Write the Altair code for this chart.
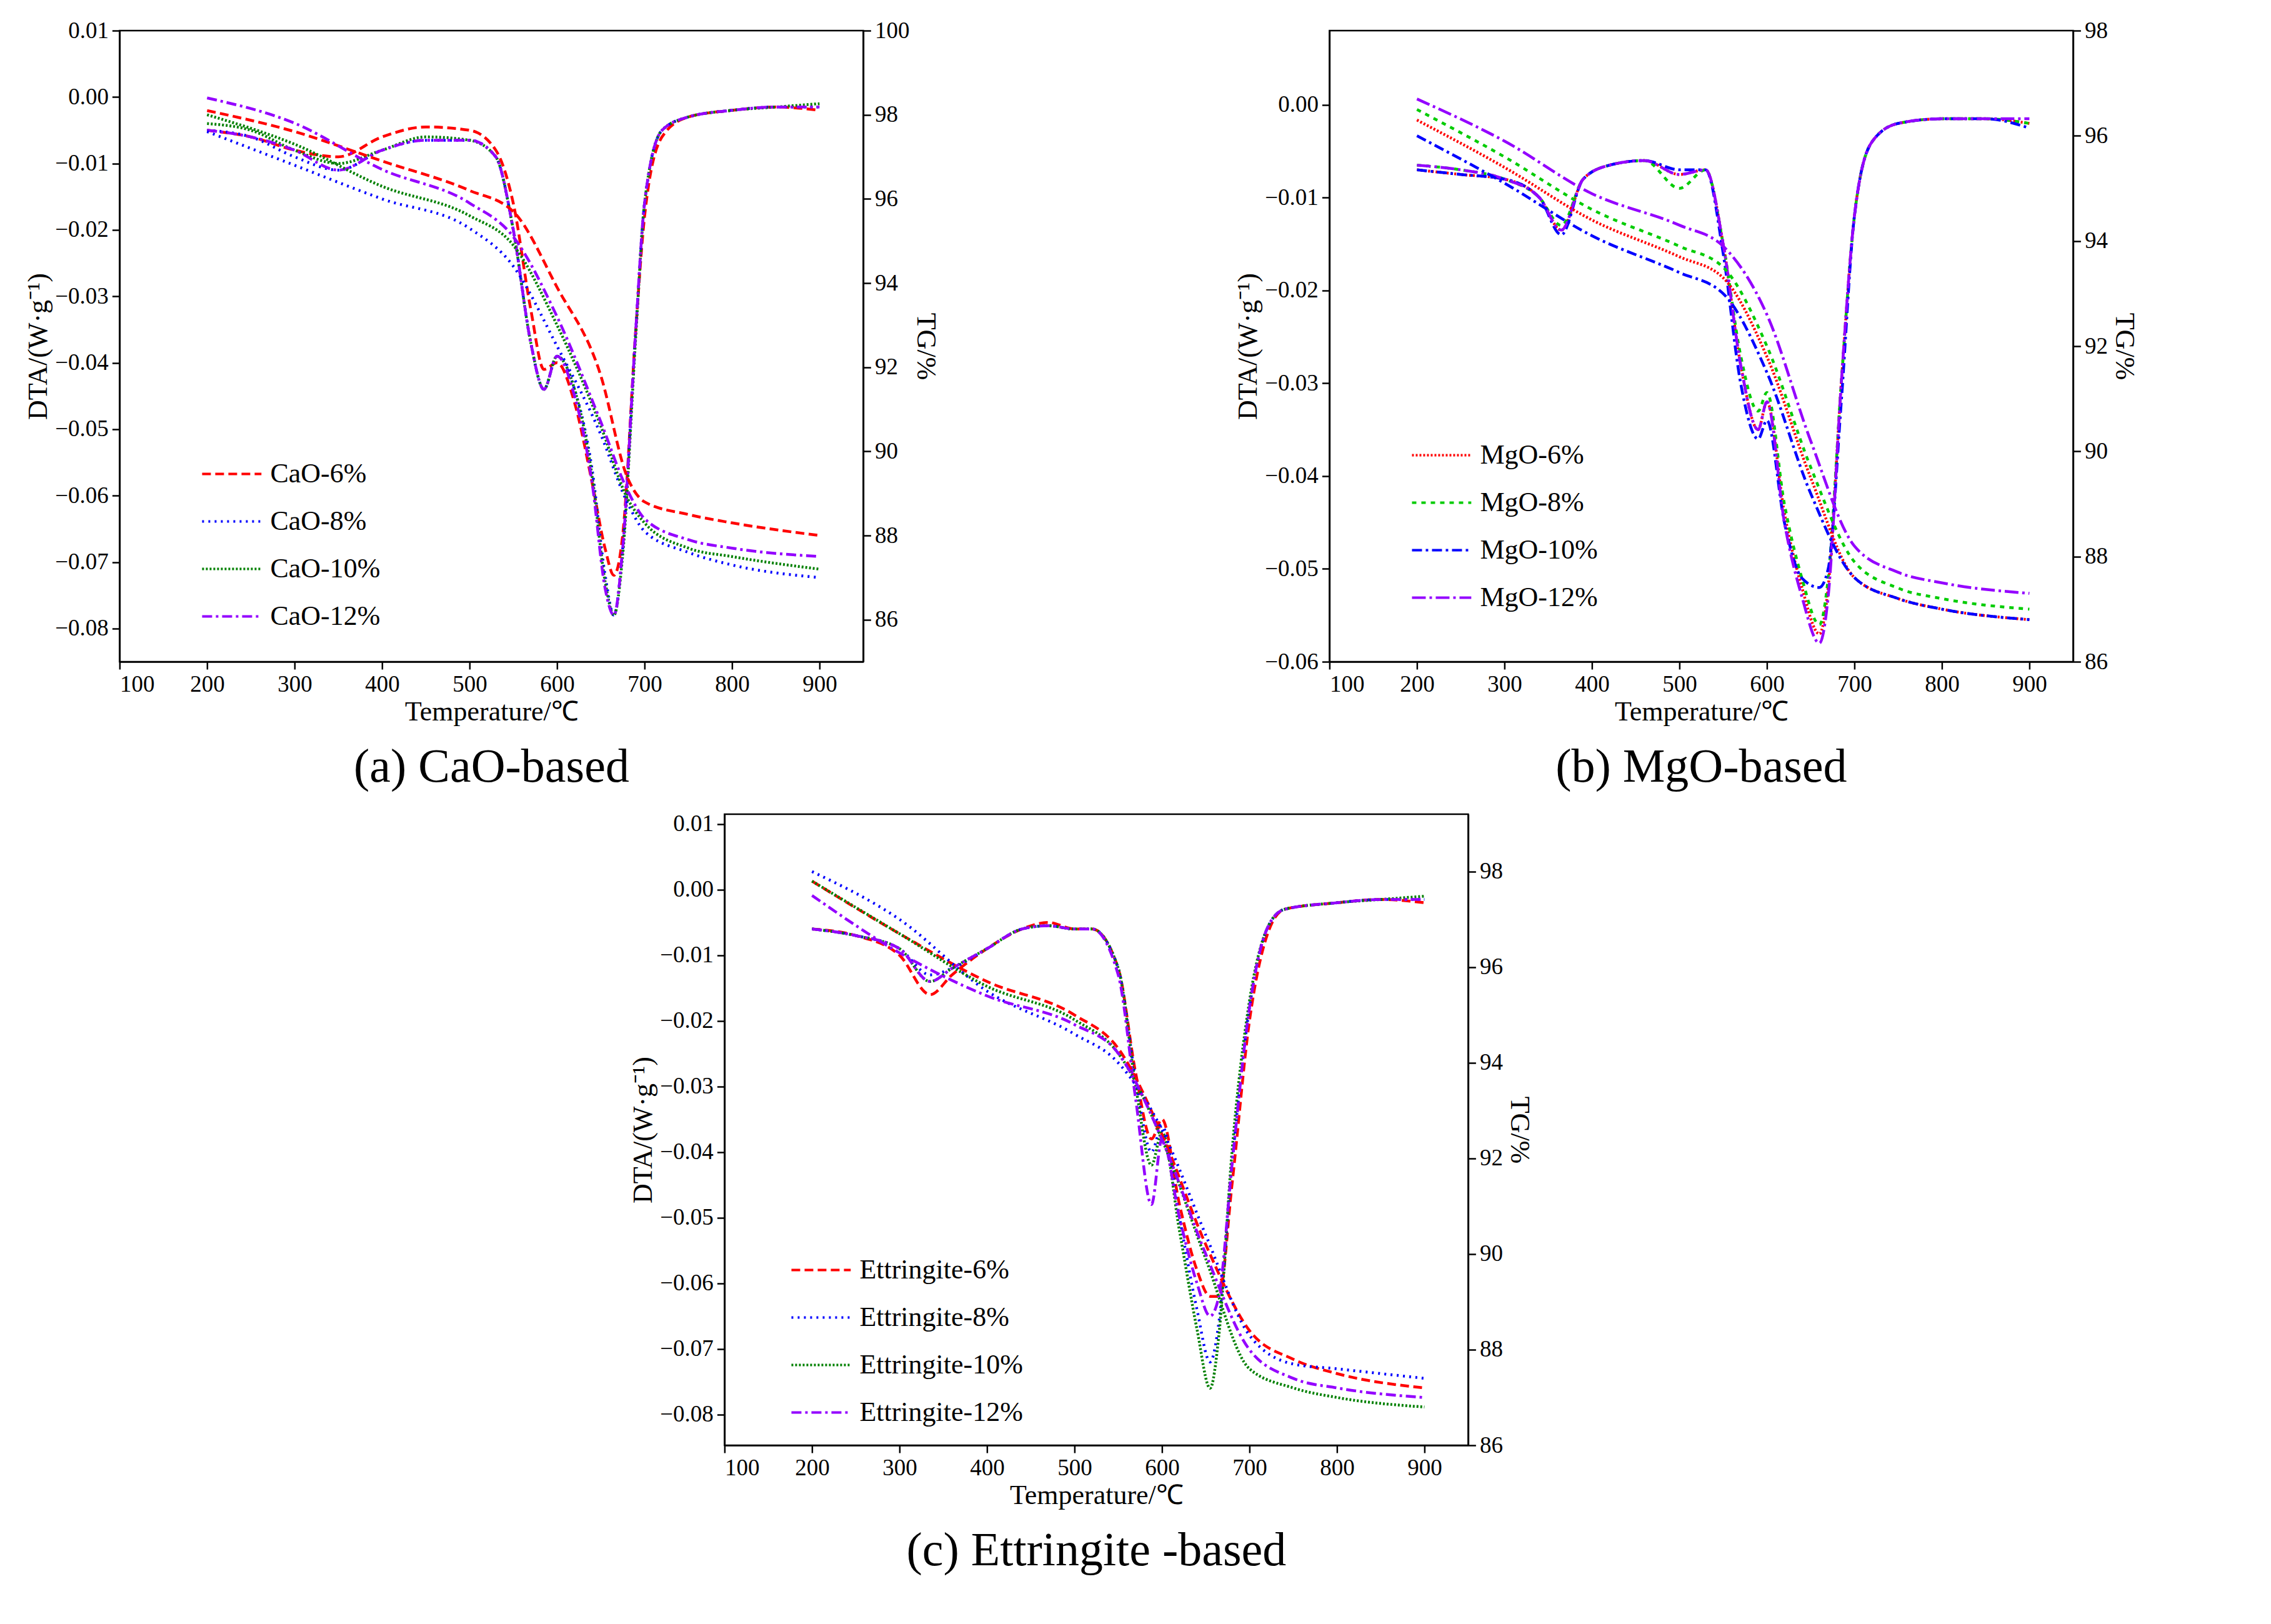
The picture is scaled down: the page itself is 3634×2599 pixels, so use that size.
import altair as alt
import pandas as pd

FONT = "Liberation Serif"

# ---------- (a) CaO-based ----------
a_t_dta = [200, 250, 300, 350, 400, 450, 500, 530, 550, 570, 585, 600, 620, 640, 655, 665, 675, 690, 700, 720, 750, 800, 850, 900]
cao6_dta = [-0.005, -0.006, -0.008, -0.009, -0.006, -0.0045, -0.005, -0.008, -0.016, -0.032, -0.041, -0.040, -0.046, -0.058, -0.068, -0.072, -0.066, -0.035, -0.018, -0.006, -0.003, -0.002, -0.0015, -0.002]
cao8_dta = [-0.005, -0.006, -0.009, -0.011, -0.008, -0.0065, -0.0065, -0.009, -0.020, -0.037, -0.044, -0.039, -0.044, -0.056, -0.072, -0.078, -0.068, -0.035, -0.016, -0.005, -0.003, -0.002, -0.0015, -0.0015]
cao10_dta = [-0.004, -0.005, -0.008, -0.010, -0.008, -0.006, -0.0065, -0.009, -0.020, -0.037, -0.044, -0.039, -0.044, -0.057, -0.073, -0.078, -0.069, -0.036, -0.016, -0.005, -0.003, -0.002, -0.0015, -0.001]
cao12_dta = [-0.005, -0.006, -0.008, -0.011, -0.008, -0.0065, -0.0065, -0.009, -0.020, -0.037, -0.044, -0.039, -0.045, -0.058, -0.074, -0.078, -0.068, -0.035, -0.016, -0.005, -0.003, -0.002, -0.0015, -0.0015]
a_t_tg = [200, 300, 400, 500, 550, 600, 650, 680, 700, 750, 800, 900]
cao6_tg = [98.1, 97.6, 96.9, 96.2, 95.7, 93.9, 91.8, 89.4, 88.8, 88.5, 88.3, 88.0]
cao8_tg = [97.6, 96.8, 96.0, 95.3, 94.4, 92.5, 90.4, 88.8, 88.1, 87.6, 87.3, 87.0]
cao10_tg = [98.0, 97.3, 96.3, 95.6, 94.9, 93.0, 90.6, 88.9, 88.3, 87.7, 87.5, 87.2]
cao12_tg = [98.4, 97.8, 96.7, 95.9, 95.1, 93.2, 90.7, 89.1, 88.4, 87.9, 87.7, 87.5]

# ---------- (b) MgO-based ----------
b_t_dta = [200, 250, 300, 340, 365, 390, 420, 460, 500, 530, 550, 570, 590, 600, 620, 640, 660, 670, 685, 700, 720, 750, 800, 850, 900]
mgo6_dta = [-0.007, -0.0075, -0.008, -0.010, -0.0135, -0.008, -0.0065, -0.006, -0.0075, -0.007, -0.015, -0.028, -0.035, -0.032, -0.044, -0.052, -0.057, -0.052, -0.030, -0.012, -0.004, -0.002, -0.0015, -0.0015, -0.002]
mgo8_dta = [-0.0065, -0.007, -0.008, -0.010, -0.013, -0.008, -0.0065, -0.006, -0.009, -0.007, -0.015, -0.027, -0.033, -0.031, -0.043, -0.051, -0.056, -0.051, -0.030, -0.012, -0.004, -0.002, -0.0015, -0.0015, -0.002]
mgo10_dta = [-0.007, -0.0075, -0.008, -0.010, -0.014, -0.008, -0.0065, -0.006, -0.007, -0.007, -0.016, -0.030, -0.036, -0.034, -0.045, -0.051, -0.052, -0.050, -0.032, -0.012, -0.004, -0.002, -0.0015, -0.0015, -0.0025]
mgo12_dta = [-0.0065, -0.007, -0.008, -0.010, -0.0135, -0.008, -0.0065, -0.006, -0.0075, -0.007, -0.015, -0.028, -0.035, -0.032, -0.045, -0.053, -0.058, -0.053, -0.030, -0.012, -0.004, -0.002, -0.0015, -0.0015, -0.0015]
b_t_tg = [200, 300, 400, 500, 550, 600, 650, 700, 750, 800, 900]
mgo6_tg = [96.3, 95.4, 94.4, 93.7, 93.3, 91.8, 89.5, 87.6, 87.2, 87.0, 86.8]
mgo8_tg = [96.5, 95.6, 94.6, 93.9, 93.5, 92.0, 89.7, 87.9, 87.4, 87.2, 87.0]
mgo10_tg = [96.0, 95.1, 94.1, 93.4, 93.0, 91.5, 89.2, 87.6, 87.2, 87.0, 86.8]
mgo12_tg = [96.7, 95.9, 94.9, 94.3, 93.9, 92.6, 90.2, 88.2, 87.7, 87.5, 87.3]

# ---------- (c) Ettringite-based ----------
c_t_dta = [200, 250, 300, 335, 360, 400, 440, 470, 500, 520, 550, 570, 588, 600, 620, 640, 655, 665, 680, 700, 720, 740, 800, 850, 900]
ett6_dta = [-0.006, -0.007, -0.010, -0.016, -0.013, -0.009, -0.006, -0.005, -0.006, -0.006, -0.012, -0.028, -0.038, -0.035, -0.048, -0.058, -0.062, -0.062, -0.045, -0.020, -0.007, -0.003, -0.002, -0.0015, -0.002]
ett8_dta = [-0.006, -0.007, -0.009, -0.013, -0.012, -0.009, -0.006, -0.0055, -0.006, -0.006, -0.012, -0.029, -0.040, -0.036, -0.050, -0.064, -0.072, -0.066, -0.042, -0.018, -0.006, -0.003, -0.002, -0.0015, -0.0015]
ett10_dta = [-0.006, -0.007, -0.009, -0.014, -0.012, -0.009, -0.006, -0.0055, -0.006, -0.006, -0.012, -0.030, -0.042, -0.037, -0.052, -0.067, -0.076, -0.068, -0.040, -0.017, -0.006, -0.003, -0.002, -0.0015, -0.001]
ett12_dta = [-0.006, -0.007, -0.009, -0.014, -0.012, -0.009, -0.006, -0.0055, -0.006, -0.006, -0.013, -0.032, -0.048, -0.038, -0.050, -0.060, -0.065, -0.062, -0.042, -0.018, -0.006, -0.003, -0.002, -0.0015, -0.0015]
c_t_tg = [200, 300, 400, 500, 550, 600, 650, 700, 750, 800, 900]
ett6_tg = [97.8, 96.7, 95.7, 95.0, 94.3, 92.5, 90.2, 88.4, 87.8, 87.5, 87.2]
ett8_tg = [98.0, 97.0, 95.5, 94.6, 94.0, 92.6, 90.4, 88.3, 87.7, 87.6, 87.4]
ett10_tg = [97.8, 96.7, 95.6, 94.9, 94.2, 92.4, 89.9, 87.6, 87.2, 87.0, 86.8]
ett12_tg = [97.5, 96.3, 95.4, 94.8, 94.2, 92.4, 90.0, 88.0, 87.4, 87.2, 87.0]


def long(temps, series):
    rows = []
    for name, vals in series.items():
        for t, v in zip(temps, vals):
            rows.append({"T": t, "v": v, "s": name})
    return pd.DataFrame(rows)


W, H = 1190, 1010


def panel(label, dta, tg, names, colors, dashes, ldom, lticks, rdom, rticks, lx, ly):
    x = alt.X("T:Q", title="Temperature/℃", scale=alt.Scale(domain=[100, 950], nice=False),
              axis=alt.Axis(values=list(range(100, 1000, 100)), grid=False))
    color = alt.Color("s:N", scale=alt.Scale(domain=names, range=colors), title=None,
                      legend=alt.Legend(orient="none", legendX=lx, legendY=ly, symbolType="stroke",
                                        symbolSize=9000, symbolStrokeWidth=4, labelFontSize=44,
                                        labelFont=FONT, labelLimit=0, rowPadding=4, labelOffset=12))
    dash = alt.StrokeDash("s:N", scale=alt.Scale(domain=names, range=dashes), legend=None)
    left = alt.Chart(dta).mark_line(strokeWidth=4.5, interpolate="monotone").encode(
        x=x,
        y=alt.Y("v:Q", title="DTA/(W·g⁻¹)", scale=alt.Scale(domain=ldom, nice=False, zero=False),
                axis=alt.Axis(values=lticks, format=".2f", grid=False)),
        color=color, strokeDash=dash, detail="s:N")
    right = alt.Chart(tg).mark_line(strokeWidth=4.5, interpolate="monotone").encode(
        x=x,
        y=alt.Y("v:Q", title="TG/%", scale=alt.Scale(domain=rdom, nice=False, zero=False),
                axis=alt.Axis(orient="right", values=rticks, grid=False)),
        color=color, strokeDash=dash, detail="s:N")
    return alt.layer(left, right).resolve_scale(y="independent").properties(
        width=W, height=H,
        title=alt.TitleParams(label, orient="bottom", fontSize=76, font=FONT, fontWeight="normal", offset=30))


d_long, d_dot, d_dense, d_dashdot = [14, 7], [3, 7], [3, 3], [16, 6, 4, 6]

pa = panel("(a) CaO-based",
           long(a_t_dta, {"CaO-6%": cao6_dta, "CaO-8%": cao8_dta, "CaO-10%": cao10_dta, "CaO-12%": cao12_dta}),
           long(a_t_tg, {"CaO-6%": cao6_tg, "CaO-8%": cao8_tg, "CaO-10%": cao10_tg, "CaO-12%": cao12_tg}),
           ["CaO-6%", "CaO-8%", "CaO-10%", "CaO-12%"],
           ["#ff0000", "#0000ff", "#008000", "#9400ff"],
           [d_long, d_dot, d_dense, d_dashdot],
           [-0.085, 0.01], [round(-0.08 + 0.01 * i, 2) for i in range(10)],
           [85, 100], list(range(86, 101, 2)), 130, 660)

pb = panel("(b) MgO-based",
           long(b_t_dta, {"MgO-6%": mgo6_dta, "MgO-8%": mgo8_dta, "MgO-10%": mgo10_dta, "MgO-12%": mgo12_dta}),
           long(b_t_tg, {"MgO-6%": mgo6_tg, "MgO-8%": mgo8_tg, "MgO-10%": mgo10_tg, "MgO-12%": mgo12_tg}),
           ["MgO-6%", "MgO-8%", "MgO-10%", "MgO-12%"],
           ["#ff0000", "#00cc00", "#0000ff", "#9400ff"],
           [d_dense, [7, 8], d_dashdot, [22, 6, 4, 6]],
           [-0.06, 0.008], [round(-0.06 + 0.01 * i, 2) for i in range(7)],
           [86, 98], list(range(86, 99, 2)), 130, 630)

pc = panel("(c) Ettringite -based",
           long(c_t_dta, {"Ettringite-6%": ett6_dta, "Ettringite-8%": ett8_dta, "Ettringite-10%": ett10_dta, "Ettringite-12%": ett12_dta}),
           long(c_t_tg, {"Ettringite-6%": ett6_tg, "Ettringite-8%": ett8_tg, "Ettringite-10%": ett10_tg, "Ettringite-12%": ett12_tg}),
           ["Ettringite-6%", "Ettringite-8%", "Ettringite-10%", "Ettringite-12%"],
           ["#ff0000", "#0000ff", "#008000", "#9400ff"],
           [d_long, d_dot, d_dense, d_dashdot],
           [-0.0847, 0.0115], [round(-0.08 + 0.01 * i, 2) for i in range(10)],
           [86, 99.2], list(range(86, 99, 2)), 105, 680)

top = alt.hconcat(pa, pb, spacing=470).resolve_scale(color="independent", strokeDash="independent")
chart = alt.vconcat(top, pc, spacing=30, center=True).resolve_scale(
    color="independent", strokeDash="independent").configure_view(
    stroke="black", strokeWidth=2.5).configure_axis(
    labelFont=FONT, titleFont=FONT, labelFontSize=37, titleFontSize=44, titleFontWeight="normal",
    labelColor="black", titleColor="black", domainColor="black", tickColor="black",
    domainWidth=2.5, tickWidth=2.5, tickSize=12, labelPadding=6).properties(
    padding={"left": 30, "top": 20, "right": 20, "bottom": 10})

chart.save("out.html", embed_options={"renderer": "svg", "actions": False})
